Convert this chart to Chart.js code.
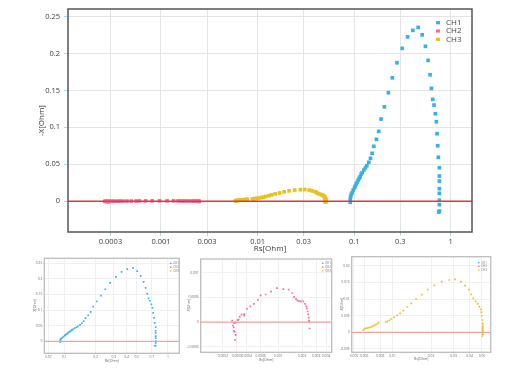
<!DOCTYPE html>
<html lang="en">
<head>
<meta charset="UTF-8" />
<title>Rs / -X</title>
<script src="https://cdn.jsdelivr.net/npm/chart.js@4"></script>
<style>
  html, body { margin: 0; padding: 0; background: #fff; }
  body { width: 525px; height: 378px; position: relative; overflow: hidden; }
  canvas { position: absolute; }
</style>
</head>
<body>
<canvas id="main" width="525" height="256" style="left:0;top:0"></canvas>
<canvas id="sub1" width="185" height="120" style="left:0;top:250px"></canvas>
<canvas id="sub2" width="160" height="120" style="left:180px;top:250px"></canvas>
<canvas id="sub3" width="185" height="120" style="left:340px;top:250px"></canvas>

<script>
// channel data (Rs, -X)
const ch1X = [0.0911, 0.0911, 0.0919, 0.0933, 0.0955, 0.0979, 0.1010, 0.1026, 0.1051, 0.1076, 0.1102, 0.1128, 0.1155, 0.1182, 0.1211, 0.1260, 0.1310, 0.1353, 0.1418, 0.1475, 0.1535, 0.1597, 0.1700, 0.1796, 0.1899, 0.2055, 0.2260, 0.2484, 0.2774, 0.3149, 0.3572, 0.4055, 0.4600, 0.5057, 0.5471, 0.5828, 0.6110, 0.6306, 0.6509, 0.6719, 0.6936, 0.7101, 0.7215, 0.7330, 0.7447, 0.7626, 0.7626, 0.7626, 0.7626, 0.7626, 0.7626, 0.7626, 0.7626, 0.7505];
const ch1Y = [-0.0014, 0.0027, 0.0063, 0.0094, 0.0117, 0.0153, 0.0184, 0.0207, 0.0234, 0.0257, 0.0288, 0.0311, 0.0333, 0.0369, 0.0387, 0.0423, 0.0454, 0.0481, 0.0527, 0.0581, 0.0649, 0.0743, 0.0838, 0.0946, 0.1112, 0.1278, 0.1468, 0.1670, 0.1873, 0.2068, 0.2224, 0.2311, 0.2351, 0.2251, 0.2095, 0.1905, 0.1711, 0.1527, 0.1378, 0.1301, 0.1184, 0.1076, 0.0914, 0.0751, 0.0595, 0.0454, 0.0342, 0.0274, 0.0171, 0.0108, 0.0014, -0.0045, -0.0131, -0.0145];

const ch2X = [2.84e-4, 2.90e-4, 2.81e-4, 2.74e-4, 2.74e-4, 2.68e-4, 2.78e-4, 2.92e-4, 2.62e-4, 3.07e-4, 3.16e-4, 3.26e-4, 3.45e-4, 3.73e-4, 3.73e-4, 4.03e-4, 4.44e-4, 4.93e-4, 5.54e-4, 5.99e-4, 6.93e-4, 8.09e-4, 9.64e-4, 1.157e-3, 1.352e-3, 1.503e-3, 1.578e-3, 1.672e-3, 1.738e-3, 1.825e-3, 1.935e-3, 2.07e-3, 2.17e-3, 2.26e-3, 2.30e-3, 2.35e-3, 2.39e-3, 2.42e-3, 2.44e-3, 2.46e-3, 2.49e-3];
const ch2Y = [-3.6e-4, -2.6e-4, -2.0e-4, -1.8e-4, -1.1e-4, -7e-5, -2e-5, -1e-5, 3e-5, 4e-5, 5e-5, 1.1e-4, 1.5e-4, 1.3e-4, 1.6e-4, 2.7e-4, 3.2e-4, 3.7e-4, 4.5e-4, 5.4e-4, 5.6e-4, 6.2e-4, 6.9e-4, 6.7e-4, 6.6e-4, 5.9e-4, 5.1e-4, 4.7e-4, 4.4e-4, 4.25e-4, 4.2e-4, 4.2e-4, 3.7e-4, 3.2e-4, 2.8e-4, 2.15e-4, 1.55e-4, 9e-5, 3e-5, 1e-5, -1.3e-4];

const ch3X = [0.00591, 0.00602, 0.00618, 0.00636, 0.00655, 0.00676, 0.00696, 0.00717, 0.00740, 0.00761, 0.00780, 0.00885, 0.00911, 0.00944, 0.00979, 0.01028, 0.01091, 0.01146, 0.01214, 0.01306, 0.01403, 0.01528, 0.01692, 0.01885, 0.02123, 0.02421, 0.02778, 0.03078, 0.03428, 0.03684, 0.03961, 0.04128, 0.04280, 0.04467, 0.04632, 0.04768, 0.04891, 0.04943, 0.04976, 0.05035, 0.05068, 0.05068, 0.05068, 0.05068, 0.05068, 0.05068, 0.05068, 0.05068, 0.05035];
const ch3Y = [0.0007, 0.0010, 0.0012, 0.0013, 0.0014, 0.0016, 0.0018, 0.0020, 0.0023, 0.0025, 0.0029, 0.0031, 0.0033, 0.0036, 0.0040, 0.0045, 0.0051, 0.0057, 0.0065, 0.0076, 0.0087, 0.0100, 0.0113, 0.0128, 0.0141, 0.0152, 0.0157, 0.0159, 0.0152, 0.0140, 0.0128, 0.0114, 0.0102, 0.0093, 0.0086, 0.0077, 0.0069, 0.0060, 0.0049, 0.0037, 0.0027, 0.0020, 0.0014, 0.0010, 0.0006, 0.0002, -0.0002, -0.0006, -0.0011];

const channels = ["CH1", "CH2", "CH3"];
const colors = ["#36b2e2", "#f06fa0", "#e9c01f"];

// axis ticks
const mainXTicks = [0.0003, 0.001, 0.003, 0.01, 0.03, 0.1, 0.3, 1];
const mainYTicks = [0, 0.05, 0.1, 0.15, 0.2, 0.25];
const sub1XTicks = [0.07, 0.1, 0.2, 0.3, 0.4, 0.5, 0.7, 1];
const sub1YTicks = [0, 0.05, 0.1, 0.15, 0.2, 0.25];
const sub2XTicks = [0.0002, 0.0003, 0.0004, 0.0006, 0.001, 0.002, 0.003, 0.004];
const sub2YTicks = [-0.0005, 0, 0.0005, 0.001];
const sub3XTicks = [0.005, 0.006, 0.008, 0.01, 0.02, 0.03, 0.04, 0.05];
const sub3YTicks = [-0.005, 0, 0.005, 0.01, 0.015, 0.02];

const pts = (xs, ys) => xs.map((x, i) => ({ x: x, y: ys[i] }));
const FONT = '"Open Sans", "DejaVu Sans", sans-serif';

// box round the plot area
const framePlugin = {
  id: "frame",
  afterDraw(chart, args, o) {
    const { ctx, chartArea: a } = chart;
    ctx.save();
    ctx.strokeStyle = o.color;
    ctx.lineWidth = o.width;
    ctx.strokeRect(a.left, a.top, a.right - a.left, a.bottom - a.top);
    ctx.restore();
  },
};

// small legend in the top right corner of the plot area
const cornerLegend = {
  id: "cornerLegend",
  afterDraw(chart, args, o) {
    const { ctx, chartArea: a } = chart;
    const sets = chart.data.datasets.filter((d) => d.label);
    ctx.save();
    ctx.font = o.size + "px " + FONT;
    ctx.textBaseline = "middle";
    sets.forEach((d, i) => {
      const x = a.right - o.right;
      const y = a.top + o.top + i * o.step;
      ctx.fillStyle = d.backgroundColor;
      ctx.fillRect(x - o.box / 2, y - o.box * 0.4, o.box, o.box * 0.8);
      ctx.fillStyle = o.color;
      ctx.fillText(d.label, x + o.gap, y);
    });
    ctx.restore();
  },
};

function makeChart(id, s) {
  const sets = [
    {
      data: [{ x: s.xMin, y: 0 }, { x: s.xMax, y: 0 }],
      showLine: true,
      pointRadius: 0,
      borderColor: s.zeroColor,
      borderWidth: s.zeroWidth,
    },
  ];
  channels.forEach((name, i) => {
    const show = s.show.includes(i);
    sets.push({
      label: name,
      data: show ? pts(s.xs[i], s.ys[i]) : [],
      pointStyle: "rect",
      pointRadius: s.pointRadius,
      pointBorderWidth: 0,
      backgroundColor: colors[i],
      borderColor: colors[i],
    });
  });

  return new Chart(document.getElementById(id), {
    type: "scatter",
    data: { datasets: sets },
    plugins: [framePlugin, cornerLegend],
    options: {
      responsive: false,
      animation: false,
      events: [],
      layout: { padding: { left: 0, top: s.top, right: s.right, bottom: 0 } },
      plugins: {
        legend: { display: false },
        tooltip: { enabled: false },
        frame: { color: s.frameColor, width: s.frameWidth },
        cornerLegend: s.legend,
      },
      scales: {
        x: {
          type: "logarithmic",
          min: s.xMin,
          max: s.xMax,
          afterBuildTicks: (ax) => { ax.ticks = s.xTicks.map((v) => ({ value: v })); },
          afterFit: (ax) => { ax.height = s.xHeight; },
          border: { display: false },
          grid: { color: s.gridColor, tickColor: s.tickColor, tickLength: s.tickLength },
          ticks: {
            autoSkip: false, maxRotation: 0, padding: s.xTickPad,
            color: s.textColor, font: { family: FONT, size: s.tickSize },
            callback: (v) => String(v),
          },
          title: {
            display: true, text: "Rs[Ohm]", color: s.textColor,
            font: { family: FONT, size: s.titleSize },
            padding: { top: 0, bottom: s.xTitlePad },
          },
        },
        y: {
          type: "linear",
          min: s.yMin,
          max: s.yMax,
          afterBuildTicks: (ax) => { ax.ticks = s.yTicks.map((v) => ({ value: v })); },
          afterFit: (ax) => { ax.width = s.yWidth; },
          border: { display: false },
          grid: { color: s.gridColor, tickColor: s.tickColor, tickLength: s.tickLength },
          ticks: {
            padding: s.tickPad,
            color: s.textColor, font: { family: FONT, size: s.tickSize },
            callback: (v) => String(v),
          },
          title: {
            display: true, text: "-X[Ohm]", color: s.textColor,
            font: { family: FONT, size: s.titleSize },
            padding: { top: s.yTitlePad, bottom: 0 },
          },
        },
      },
    },
  });
}

const allX = [ch1X, ch2X, ch3X];
const allY = [ch1Y, ch2Y, ch3Y];

// big overview chart
makeChart("main", {
  xs: allX, ys: allY, show: [0, 1, 2],
  xMin: 1.09e-4, xMax: 1.66, yMin: -0.0415, yMax: 0.26,
  xTicks: mainXTicks, yTicks: mainYTicks,
  top: 9, right: 53, xHeight: 24, yWidth: 68,
  tickSize: 7.5, titleSize: 8, tickPad: 4, xTickPad: 1, tickLength: 4,
  xTitlePad: 2, yTitlePad: 37,
  textColor: "#3a3a3a", gridColor: "#e4e4e4", tickColor: "#a9d9ef",
  frameColor: "#555", frameWidth: 1.5,
  zeroColor: "#e8362f", zeroWidth: 1.5, pointRadius: 2.6,
  legend: { right: 34, top: 13.7, step: 8.3, box: 4, gap: 8, size: 8, color: "#444" },
});

// small charts, one channel each
const smallStyle = {
  tickSize: 3.3, titleSize: 3.5, tickPad: 1, xTickPad: 1, tickLength: 1,
  textColor: "#666", gridColor: "#f0f0f0", tickColor: "#e0e0e0",
  frameColor: "#bdbdbd", frameWidth: 1.3,
  zeroColor: "#f3a29a", zeroWidth: 1.3, pointRadius: 1.2,
};

makeChart("sub1", Object.assign({}, smallStyle, {
  xs: allX, ys: allY, show: [0],
  xMin: 0.064, xMax: 1.29, yMin: -0.038, yMax: 0.266,
  xTicks: sub1XTicks, yTicks: sub1YTicks,
  top: 8.3, right: 5.7, xHeight: 16.7, yWidth: 44.3,
  xTitlePad: 6.9, yTitlePad: 32.9,
  legend: { right: 8.6, top: 5, step: 3.9, box: 1.6, gap: 2.5, size: 3, color: "#777" },
}));

makeChart("sub2", Object.assign({}, smallStyle, {
  xs: allX, ys: allY, show: [1],
  xMin: 1.05e-4, xMax: 4.72e-3, yMin: -0.000613, yMax: 0.00128,
  xTicks: sub2XTicks, yTicks: sub2YTicks,
  top: 9, right: 8.3, xHeight: 17.7, yWidth: 20.7,
  xTitlePad: 7.9, yTitlePad: 6.9,
  legend: { right: 9, top: 4.3, step: 3.7, box: 1.6, gap: 2.5, size: 3, color: "#777" },
}));

makeChart("sub3", Object.assign({}, smallStyle, {
  xs: allX, ys: allY, show: [2],
  xMin: 0.0048, xMax: 0.0585, yMin: -0.006, yMax: 0.0227,
  xTicks: sub3XTicks, yTicks: sub3YTicks,
  top: 6.7, right: 34.3, xHeight: 17.7, yWidth: 11.7,
  xTitlePad: 8.9, yTitlePad: 0,
  legend: { right: 12, top: 6, step: 3.7, box: 1.6, gap: 2.5, size: 3, color: "#777" },
}));
</script>
</body>
</html>
